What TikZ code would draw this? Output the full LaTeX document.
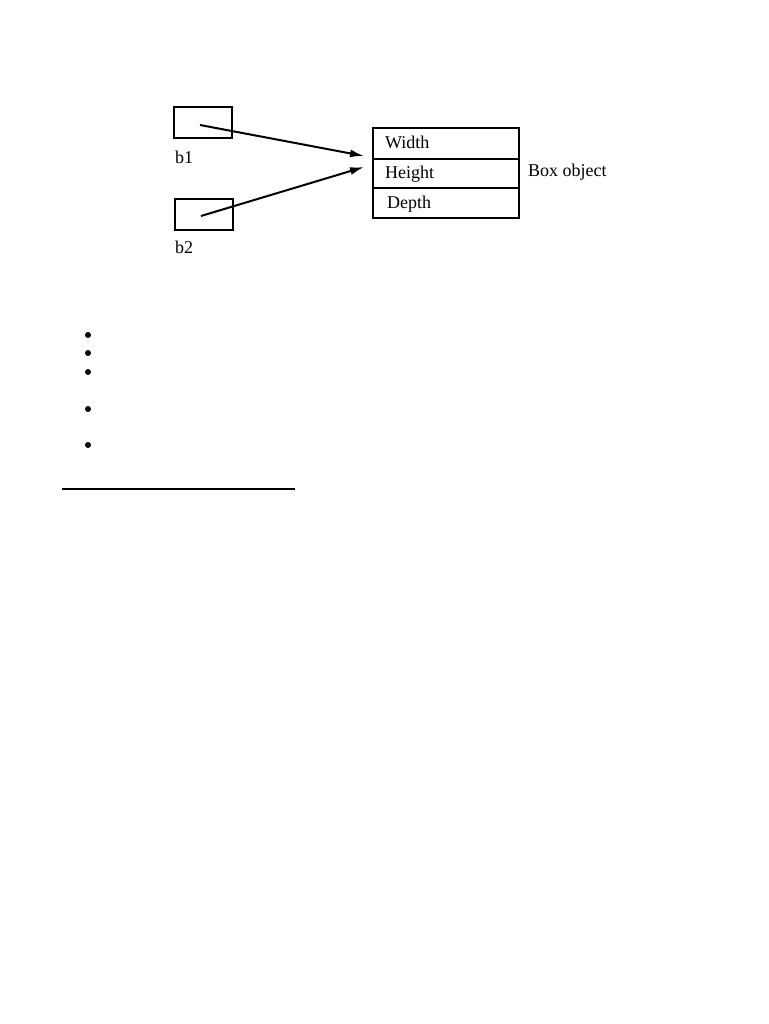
\documentclass[tikz,border=0pt]{standalone}
\usepackage{fontspec}
\setmainfont{Liberation Serif}
\usetikzlibrary{arrows.meta}
\begin{document}
\begin{tikzpicture}[x=1pt,y=-1pt,
  ref/.style={draw,line width=2pt,minimum width=58pt,minimum height=31pt,inner sep=0pt},
  field/.style={draw,line width=2pt,minimum width=146pt,inner sep=0pt,anchor=north west},
  lbl/.style={font=\fontsize{18}{20}\selectfont,inner sep=0pt},
  ptr/.style={line width=2pt,-{Latex[length=14pt,width=8pt]}},
  dot/.style={circle,fill,inner sep=0pt,minimum size=6pt}]
\useasboundingbox (0,0) rectangle (768,1024);
\node[ref] (b1) at (203,122.5) {};
\node[ref] (b2) at (204,215) {};
\node[lbl,anchor=west] (b1l) at (175,157) {b1};
\node[lbl,anchor=west] (b2l) at (175,247) {b2};
\node[field,minimum height=31pt] (w) at (372,127) {};
\node[field,minimum height=29pt] (h) at (372,158) {};
\node[field,minimum height=30pt] (d) at (372,187) {};
\node[lbl,anchor=west] (wl) at (385,142) {Width};
\node[lbl,anchor=west] (hl) at (385,174) {Height};
\node[lbl,anchor=west] (dl) at (387,204) {Depth};
\node[lbl,anchor=west] (bo) at (528,172) {Box object};
\coordinate (s1) at (200,125);
\coordinate (s2) at (201,216);
\coordinate (e1) at (364,156);
\coordinate (e2) at (364,167);
\draw[ptr] (s1) -- (e1);
\draw[ptr] (s2) -- (e2);
\foreach \y/\n in {335/p1,353/p2,372/p3,409/p4,445/p5}
  \node[dot] (\n) at (88,\y) {};
\coordinate (la) at (62,489);
\coordinate (lb) at (295,489);
\draw[line width=2.5pt] (la) -- (lb);
\end{tikzpicture}
\end{document}
